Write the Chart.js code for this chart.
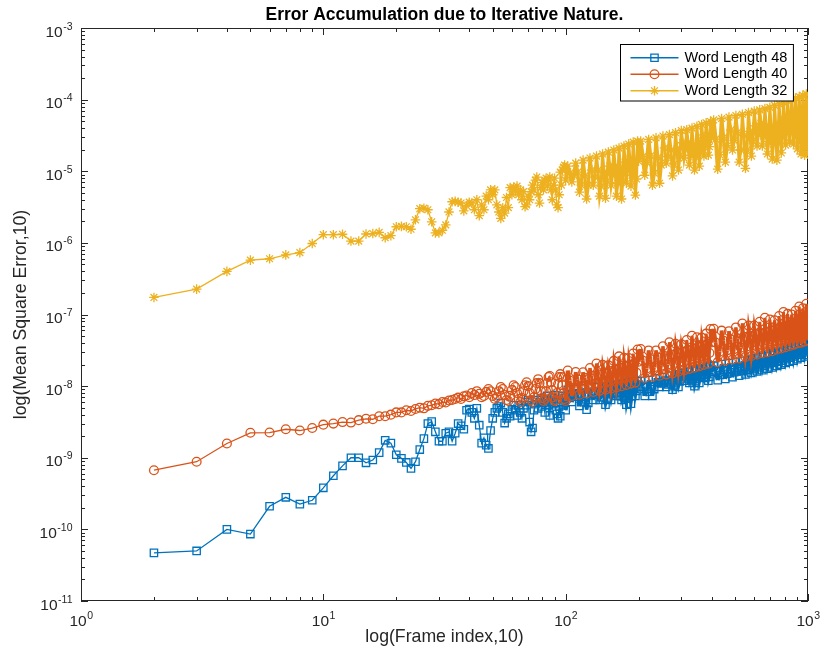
<!DOCTYPE html>
<html>
<head>
<meta charset="utf-8">
<title>Error Accumulation due to Iterative Nature.</title>
<script src="https://cdn.jsdelivr.net/npm/chart.js@4.4.1/dist/chart.umd.min.js"></script>
<style>
  html, body { margin: 0; padding: 0; background: #fff; }
  #wrap { width: 821px; height: 652px; }
</style>
</head>
<body>
<div id="wrap"><canvas id="errChart" width="821" height="652"></canvas></div>
<script>
// frame index shared by the three curves
// (every frame up to 100, then sampled more thinly where the curves become a solid band)
const frameIndex = [
  2, 3, 4, 5, 6, 7, 8, 9, 10, 11,
  12, 13, 14, 15, 16, 17, 18, 19, 20, 21,
  22, 23, 24, 25, 26, 27, 28, 29, 30, 31,
  32, 33, 34, 35, 36, 37, 38, 39, 40,
  41, 42, 43, 44, 45, 46, 47, 48, 49, 50,
  51, 52, 53, 54, 55, 56, 57, 58, 59, 60,
  61, 62, 63, 64, 65, 66, 67, 68, 69, 70,
  71, 72, 73, 74, 75, 76, 77, 78, 79, 80,
  81, 82, 83, 84, 85, 86, 87, 88, 89, 90,
  91, 92, 93, 94, 95, 96, 97, 98, 99, 100,
  102, 104, 106, 108, 110, 112, 114, 116, 118, 120,
  122, 124, 126, 128, 130, 132, 134, 136, 138, 140,
  142, 144, 146, 148, 150, 152, 154, 156, 158, 160,
  162, 164, 166, 168, 170, 172, 174, 176, 178, 180,
  182, 184, 186, 188, 190, 192, 194, 196, 198, 200,
  204, 208, 212, 216, 220, 224, 228, 232, 236, 240,
  244, 248, 252, 256, 260, 264, 268, 272, 276, 280,
  284, 288, 292, 296, 300, 304, 308, 312, 316, 320,
  324, 328, 332, 336, 340, 344, 348, 352, 356, 360,
  364, 368, 372, 376, 380, 384, 388, 392, 396, 400,
  408, 416, 424, 432, 440, 448, 456, 464, 472, 480,
  488, 496, 504, 512, 520, 528, 536, 544, 552, 560,
  568, 576, 584, 592, 600, 608, 616, 624, 632, 640,
  648, 656, 664, 672, 680, 688, 696, 704, 712, 720,
  728, 736, 744, 752, 760, 768, 776, 784, 792, 800,
  808, 816, 824, 832, 840, 848, 856, 864, 872, 880,
  888, 896, 904, 912, 920, 928, 936, 944, 952, 960,
  968, 976, 984, 992, 1000
];

// Word Length 48
const mseWL48 = [
  4.7e-11, 5.0e-11, 1.0e-10, 8.6e-11, 2.1e-10, 2.8e-10, 2.25e-10, 2.55e-10, 3.8e-10, 5.6e-10,
  7.7e-10, 1.0e-9, 1.0e-9, 8.5e-10, 9.3e-10, 1.18e-9, 1.75e-9, 1.6e-9, 1.1e-9, 9.8e-10,
  8.6e-10, 7.1e-10, 8.8e-10, 1.3e-9, 1.85e-9, 3.0e-9, 3.2e-9, 2.3e-9, 1.7e-9, 1.7e-9,
  2.2e-9, 2.3e-9, 1.7e-9, 2.2e-9, 3.0e-9, 2.8e-9, 2.5e-9, 4.6e-9, 4.8e-9,
  4.3e-9, 3.55e-9, 4.9e-9, 2.85e-9, 1.6e-9, 1.9e-9, 1.5e-9, 1.35e-9, 2.4e-9, 3.55e-9,
  4.3e-9, 4.9e-9, 5.2e-9, 5.8e-9, 4.3e-9, 3.05e-9, 3.55e-9, 4.1e-9, 3.8e-9, 4.75e-9,
  5.4e-9, 4.6e-9, 3.9e-9, 5.4e-9, 4.3e-9, 3.55e-9, 4.9e-9, 6.0e-9, 5.4e-9, 6.4e-9,
  3.15e-9, 2.3e-9, 2.6e-9, 4.6e-9, 5.6e-9, 6.4e-9, 4.9e-9, 6.0e-9, 6.8e-9, 5.2e-9,
  5.8e-9, 4.3e-9, 6.4e-9, 7.3e-9, 5.4e-9, 3.9e-9, 6.0e-9, 6.8e-9, 5.6e-9, 7.5e-9,
  4.6e-9, 4.1e-9, 3.55e-9, 5.2e-9, 3.8e-9, 6.0e-9, 7.3e-9, 5.4e-9, 6.8e-9, 4.6e-9,
  8.9e-9, 7.25e-9, 6.0e-9, 7.1e-9, 9.1e-9, 7.6e-9, 5.3e-9, 5.95e-9, 9.3e-9, 7.1e-9,
  4.7e-9, 5.85e-9, 9.55e-9, 7.85e-9, 6.4e-9, 7.6e-9, 9.75e-9, 8.5e-9, 6.4e-9, 7.0e-9,
  9.9e-9, 7.9e-9, 5.5e-9, 6.6e-9, 1.01e-8, 8.3e-9, 6.4e-9, 7.75e-9, 1.04e-8, 9.1e-9,
  7.3e-9, 8.2e-9, 1.07e-8, 8.9e-9, 6.4e-9, 7.2e-9, 1.1e-8, 8.45e-9, 5.5e-9, 6.7e-9,
  1.12e-8, 8.45e-9, 5.7e-9, 7.3e-9, 1.14e-8, 9.35e-9, 7.3e-9, 8.6e-9, 1.17e-8, 9.75e-9,
  1.19e-8, 9.9e-9, 7.3e-9, 8.35e-9, 1.22e-8, 9.9e-9, 7.3e-9, 9.1e-9, 1.28e-8, 1.13e-8,
  9.75e-9, 1.09e-8, 1.34e-8, 1.2e-8, 9.75e-9, 1.06e-8, 1.4e-8, 1.17e-8, 8.9e-9, 1.02e-8,
  1.46e-8, 1.21e-8, 9.75e-9, 1.16e-8, 1.52e-8, 1.37e-8, 1.19e-8, 1.28e-8, 1.58e-8, 1.4e-8,
  1.11e-8, 1.21e-8, 1.64e-8, 1.36e-8, 1.0e-8, 1.17e-8, 1.71e-8, 1.41e-8, 1.11e-8, 1.34e-8,
  1.77e-8, 1.59e-8, 1.3e-8, 1.45e-8, 1.85e-8, 1.58e-8, 1.19e-8, 1.34e-8, 1.92e-8, 1.58e-8,
  1.93e-8, 1.61e-8, 1.21e-8, 1.43e-8, 2.03e-8, 1.68e-8, 1.26e-8, 1.49e-8, 2.1e-8, 1.75e-8,
  1.33e-8, 1.56e-8, 2.18e-8, 1.82e-8, 1.4e-8, 1.63e-8, 2.25e-8, 1.91e-8, 1.46e-8, 1.7e-8,
  2.32e-8, 1.99e-8, 1.53e-8, 1.77e-8, 2.45e-8, 2.06e-8, 1.6e-8, 1.84e-8, 2.55e-8, 2.17e-8,
  1.67e-8, 1.93e-8, 2.62e-8, 2.23e-8, 1.75e-8, 2.02e-8, 2.74e-8, 2.31e-8, 1.82e-8, 2.1e-8,
  2.86e-8, 2.45e-8, 1.91e-8, 2.2e-8, 2.96e-8, 2.55e-8, 2.0e-8, 2.27e-8, 3.1e-8, 2.65e-8,
  2.1e-8, 2.38e-8, 3.2e-8, 2.75e-8, 2.2e-8, 2.5e-8, 3.35e-8, 2.88e-8, 2.26e-8, 2.6e-8,
  3.47e-8, 3.0e-8, 2.38e-8, 2.72e-8, 3.6e-8, 3.13e-8, 2.5e-8, 2.85e-8, 3.77e-8, 3.27e-8,
  2.6e-8, 2.97e-8, 3.9e-8, 3.38e-8, 2.72e-8
];

// Word Length 40
const mseWL40 = [
  6.7e-10, 8.8e-10, 1.58e-9, 2.23e-9, 2.25e-9, 2.5e-9, 2.4e-9, 2.6e-9, 2.9e-9, 3.0e-9,
  3.15e-9, 3.1e-9, 3.35e-9, 3.5e-9, 3.45e-9, 3.8e-9, 3.8e-9, 4.0e-9, 4.3e-9, 4.3e-9,
  4.6e-9, 4.5e-9, 4.8e-9, 5.0e-9, 4.9e-9, 5.3e-9, 5.4e-9, 5.7e-9, 5.6e-9, 6.0e-9,
  5.9e-9, 6.3e-9, 6.4e-9, 6.6e-9, 6.9e-9, 6.6e-9, 7.2e-9, 7.4e-9, 7.0e-9,
  8.0e-9, 7.5e-9, 8.5e-9, 7.8e-9, 7.0e-9, 7.3e-9, 8.3e-9, 9.1e-9, 8.5e-9, 7.3e-9,
  6.6e-9, 7.0e-9, 8.5e-9, 9.7e-9, 9.1e-9, 7.5e-9, 6.4e-9, 6.2e-9, 7.3e-9, 8.8e-9,
  1.03e-8, 9.7e-9, 8.0e-9, 6.6e-9, 6.0e-9, 6.8e-9, 8.5e-9, 1.03e-8, 1.13e-8, 1.0e-8,
  8.0e-9, 6.4e-9, 6.0e-9, 7.0e-9, 9.1e-9, 1.1e-8, 1.25e-8, 1.1e-8, 8.5e-9, 6.8e-9,
  6.2e-9, 6.6e-9, 8.5e-9, 1.1e-8, 1.34e-8, 1.38e-8, 1.13e-8, 8.8e-9, 7.0e-9, 6.2e-9,
  6.4e-9, 8.0e-9, 1.07e-8, 1.34e-8, 1.47e-8, 1.34e-8, 1.03e-8, 8.0e-9, 6.6e-9, 6.2e-9,
  1.65e-8, 1.2e-8, 7.3e-9, 9.4e-9, 1.57e-8, 1.25e-8, 7.6e-9, 1.0e-8, 1.56e-8, 1.31e-8,
  7.9e-9, 1.04e-8, 1.79e-8, 1.39e-8, 8.3e-9, 1.08e-8, 2.07e-8, 1.46e-8, 8.6e-9, 1.13e-8,
  1.98e-8, 1.54e-8, 8.9e-9, 1.18e-8, 1.96e-8, 1.63e-8, 9.2e-9, 1.23e-8, 2.25e-8, 1.71e-8,
  9.6e-9, 1.3e-8, 2.6e-8, 1.8e-8, 1.0e-8, 1.35e-8, 2.48e-8, 1.89e-8, 1.04e-8, 1.41e-8,
  2.47e-8, 1.98e-8, 1.09e-8, 1.48e-8, 2.85e-8, 2.08e-8, 1.12e-8, 1.54e-8, 3.25e-8, 2.19e-8,
  3.3e-8, 2.28e-8, 1.3e-8, 1.76e-8, 3.15e-8, 2.38e-8, 1.35e-8, 1.84e-8, 3.15e-8, 2.53e-8,
  1.4e-8, 1.92e-8, 3.6e-8, 2.64e-8, 1.46e-8, 2.01e-8, 4.1e-8, 2.77e-8, 1.51e-8, 2.11e-8,
  3.9e-8, 2.91e-8, 1.59e-8, 2.2e-8, 3.85e-8, 3.03e-8, 1.66e-8, 2.32e-8, 4.4e-8, 3.2e-8,
  1.74e-8, 2.41e-8, 5.05e-8, 3.38e-8, 1.81e-8, 2.53e-8, 4.8e-8, 3.52e-8, 1.89e-8, 2.63e-8,
  4.75e-8, 3.7e-8, 1.99e-8, 2.75e-8, 5.4e-8, 3.87e-8, 2.05e-8, 2.9e-8, 6.25e-8, 4.07e-8,
  6.3e-8, 4.07e-8, 2.16e-8, 3.03e-8, 5.95e-8, 4.29e-8, 2.29e-8, 3.16e-8, 5.85e-8, 4.47e-8,
  2.35e-8, 3.29e-8, 6.6e-8, 4.64e-8, 2.44e-8, 3.44e-8, 7.5e-8, 4.87e-8, 2.55e-8, 3.57e-8,
  7.0e-8, 5.1e-8, 2.63e-8, 3.74e-8, 7.0e-8, 5.32e-8, 2.76e-8, 3.85e-8, 7.9e-8, 5.5e-8,
  2.88e-8, 4.01e-8, 9.0e-8, 5.72e-8, 2.98e-8, 4.2e-8, 8.5e-8, 6.0e-8, 3.08e-8, 4.34e-8,
  8.3e-8, 6.21e-8, 3.25e-8, 4.56e-8, 9.5e-8, 6.54e-8, 3.35e-8, 4.76e-8, 1.08e-7, 6.87e-8,
  3.49e-8, 5.0e-8, 1.02e-7, 7.14e-8, 3.64e-8, 5.19e-8, 1.0e-7, 7.52e-8, 3.8e-8, 5.42e-8,
  1.13e-7, 7.79e-8, 3.95e-8, 5.62e-8, 1.29e-7, 8.07e-8, 4.05e-8, 5.85e-8, 1.22e-7, 8.45e-8,
  4.19e-8, 6.08e-8, 1.41e-7, 8.83e-8, 4.38e-8
];

// Word Length 32
const mseWL32 = [
  1.73e-7, 2.26e-7, 4.0e-7, 5.75e-7, 6.0e-7, 6.8e-7, 7.3e-7, 9.8e-7, 1.3e-6, 1.3e-6,
  1.32e-6, 1.06e-6, 1.06e-6, 1.33e-6, 1.35e-6, 1.4e-6, 1.18e-6, 1.26e-6, 1.68e-6, 1.7e-6,
  1.68e-6, 1.55e-6, 2.1e-6, 3.0e-6, 3.05e-6, 2.9e-6, 1.97e-6, 1.38e-6, 1.38e-6, 1.5e-6,
  1.78e-6, 2.7e-6, 3.75e-6, 3.8e-6, 3.7e-6, 3.6e-6, 2.8e-6, 3.3e-6, 3.7e-6,
  3.6e-6, 2.9e-6, 4.0e-6, 2.4e-6, 3.4e-6, 2.9e-6, 4.5e-6, 4.0e-6, 5.5e-6, 4.7e-6,
  5.5e-6, 3.4e-6, 2.7e-6, 2.2e-6, 3.1e-6, 2.6e-6, 4.3e-6, 3.1e-6, 5.9e-6, 4.7e-6,
  6.0e-6, 5.2e-6, 6.2e-6, 4.7e-6, 5.5e-6, 4.0e-6, 5.2e-6, 3.2e-6, 3.4e-6, 4.5e-6,
  4.0e-6, 5.2e-6, 6.4e-6, 5.5e-6, 7.5e-6, 8.3e-6, 4.7e-6, 3.6e-6, 5.9e-6, 7.0e-6,
  5.5e-6, 7.5e-6, 8.0e-6, 6.2e-6, 7.5e-6, 8.3e-6, 5.5e-6, 4.0e-6, 6.4e-6, 8.0e-6,
  5.5e-6, 3.4e-6, 3.1e-6, 4.7e-6, 9.7e-6, 6.4e-6, 1.04e-5, 1.14e-5, 1.22e-5, 7.5e-6,
  1.18e-5, 9.4e-6, 7.1e-6, 8.8e-6, 1.3e-5, 9.7e-6, 5.1e-6, 6.4e-6, 1.43e-5, 8.6e-6,
  4.1e-6, 6.4e-6, 1.53e-5, 1.04e-5, 6.4e-6, 8.3e-6, 1.63e-5, 1.04e-5, 4.5e-6, 6.2e-6,
  1.74e-5, 9.7e-6, 4.2e-6, 7.3e-6, 1.85e-5, 1.18e-5, 6.4e-6, 8.8e-6, 1.98e-5, 1.18e-5,
  4.5e-6, 6.8e-6, 2.1e-5, 1.1e-5, 4.1e-6, 7.3e-6, 2.25e-5, 1.34e-5, 6.8e-6, 1.07e-5,
  2.4e-5, 1.48e-5, 6.2e-6, 8.8e-6, 2.55e-5, 1.34e-5, 4.65e-6, 7.8e-6, 2.63e-5, 1.38e-5,
  2.63e-5, 1.6e-5, 8.8e-6, 1.33e-5, 2.78e-5, 1.64e-5, 6.4e-6, 9.4e-6, 2.92e-5, 1.55e-5,
  6.8e-6, 1.22e-5, 3.1e-5, 2.12e-5, 1.3e-5, 1.6e-5, 3.25e-5, 1.98e-5, 8.6e-6, 1.26e-5,
  3.45e-5, 2.05e-5, 1.04e-5, 1.65e-5, 3.7e-5, 2.5e-5, 1.53e-5, 2.0e-5, 3.8e-5, 2.52e-5,
  1.22e-5, 1.67e-5, 4.0e-5, 2.36e-5, 1.04e-5, 1.58e-5, 4.25e-5, 2.46e-5, 1.18e-5, 1.87e-5,
  4.5e-5, 2.92e-5, 1.63e-5, 2.3e-5, 4.75e-5, 3.15e-5, 1.68e-5, 2.2e-5, 4.95e-5, 2.9e-5,
  5.2e-5, 2.8e-5, 1.07e-5, 1.7e-5, 5.45e-5, 2.95e-5, 1.34e-5, 2.27e-5, 5.7e-5, 3.75e-5,
  1.98e-5, 2.7e-5, 6.0e-5, 3.5e-5, 1.34e-5, 1.98e-5, 6.25e-5, 3.15e-5, 1.1e-5, 1.98e-5,
  6.6e-5, 3.6e-5, 1.63e-5, 2.7e-5, 6.9e-5, 4.3e-5, 2.25e-5, 3.25e-5, 7.2e-5, 4.65e-5,
  2.25e-5, 3.1e-5, 7.5e-5, 4.35e-5, 1.74e-5, 2.6e-5, 7.8e-5, 4.15e-5, 1.48e-5, 2.4e-5,
  8.3e-5, 4.15e-5, 1.43e-5, 2.5e-5, 8.7e-5, 4.55e-5, 1.8e-5, 3.05e-5, 9.1e-5, 5.2e-5,
  2.32e-5, 3.65e-5, 9.6e-5, 5.65e-5, 2.55e-5, 3.85e-5, 1.0e-4, 5.8e-5, 2.4e-5, 3.65e-5,
  1.05e-4, 5.55e-5, 2.05e-5, 3.2e-5, 1.1e-4, 5.35e-5, 1.74e-5, 2.95e-5, 1.15e-4, 5.35e-5,
  1.68e-5, 3.0e-5, 1.2e-4, 5.5e-5, 1.74e-5
];

const seriesNames = ['Word Length 48', 'Word Length 40', 'Word Length 32'];
const seriesColors = ['#0072BD', '#D95319', '#EDB120'];
const seriesMarkers = ['rect', 'circle', 'star'];

// decade tick labels (exponents of 10)
const xTickExp = [0, 1, 2, 3];
const yTickExp = [-11, -10, -9, -8, -7, -6, -5, -4, -3];

const chartTitle = 'Error Accumulation due to Iterative Nature.';
const xTitle = 'log(Frame index,10)';
const yTitle = 'log(Mean Square Error,10)';

const FONT = '"Liberation Sans", Arial, Helvetica, sans-serif';
const AXIS_COLOR = '#262626';
const markerRadius = { rect: 5.2, circle: 4.4, star: 4.8 };

function toPoints(ys) {
  return frameIndex.map((f, i) => ({ x: f, y: ys[i] }));
}

// in the sampled part each plotted segment stands in for several real frames,
// so it is stroked heavier to give the same solid band as the original
function segmentWidth(ctx) {
  if (frameIndex[ctx.p0DataIndex] < 100) return 1.3;
  const dx = Math.abs(ctx.p1.x - ctx.p0.x);
  return Math.min(4.0, Math.max(3.0, dx * 1.9));
}

// "10" with a raised exponent, like MATLAB tick labels
function drawPow10(ctx, exp, x, y, align) {
  const base = '10';
  const sup = String(exp);
  ctx.font = '15.5px ' + FONT;
  const bw = ctx.measureText(base).width;
  ctx.font = '10.5px ' + FONT;
  const sw = ctx.measureText(sup).width;
  const left = align === 'right' ? x - bw - sw : x - (bw + sw) / 2;
  ctx.textAlign = 'left';
  ctx.textBaseline = 'alphabetic';
  ctx.font = '15.5px ' + FONT;
  ctx.fillText(base, left, y);
  ctx.font = '10.5px ' + FONT;
  ctx.fillText(sup, left + bw + 0.5, y - 7);
}

// minor + major tick values for a log axis
function logTicks(e0, e1) {
  const out = [];
  for (let e = e0; e <= e1; e++) {
    for (let m = 1; m <= 9; m++) {
      if (e === e1 && m > 1) break;
      out.push({ v: Number((m * Math.pow(10, e)).toPrecision(3)), major: m === 1 });
    }
  }
  return out;
}

const matlabAxes = {
  id: 'matlabAxes',
  beforeDatasetsDraw(chart) {
    const { ctx, chartArea: a, scales } = chart;
    ctx.save();
    ctx.strokeStyle = AXIS_COLOR;
    ctx.lineWidth = 1;
    ctx.strokeRect(a.left + 0.5, a.top + 0.5, a.right - a.left - 1, a.bottom - a.top - 1);
    ctx.beginPath();
    logTicks(xTickExp[0], xTickExp[xTickExp.length - 1]).forEach(t => {
      const px = Math.round(scales.x.getPixelForValue(t.v)) + 0.5;
      const len = t.major ? 7 : 4;
      ctx.moveTo(px, a.bottom); ctx.lineTo(px, a.bottom - len);
      ctx.moveTo(px, a.top); ctx.lineTo(px, a.top + len);
    });
    logTicks(yTickExp[0], yTickExp[yTickExp.length - 1]).forEach(t => {
      const py = Math.round(scales.y.getPixelForValue(t.v)) + 0.5;
      const len = t.major ? 7 : 4;
      ctx.moveTo(a.left, py); ctx.lineTo(a.left + len, py);
      ctx.moveTo(a.right, py); ctx.lineTo(a.right - len, py);
    });
    ctx.stroke();
    ctx.restore();
  },
  afterDraw(chart) {
    const { ctx, chartArea: a, scales } = chart;
    ctx.save();
    ctx.fillStyle = AXIS_COLOR;
    xTickExp.forEach(e => drawPow10(ctx, e, scales.x.getPixelForValue(Math.pow(10, e)), a.bottom + 25, 'center'));
    yTickExp.forEach(e => drawPow10(ctx, e, a.left - 9, scales.y.getPixelForValue(Math.pow(10, e)) + 8.5, 'right'));

    // axis titles
    const cx = (a.left + a.right) / 2;
    const cy = (a.top + a.bottom) / 2;
    ctx.font = '17.7px ' + FONT;
    ctx.textAlign = 'center';
    ctx.textBaseline = 'middle';
    ctx.fillText(xTitle, cx, a.bottom + 36);
    ctx.save();
    ctx.translate(21, cy);
    ctx.rotate(-Math.PI / 2);
    ctx.fillText(yTitle, 0, 0);
    ctx.restore();

    // title
    ctx.fillStyle = '#000';
    ctx.font = 'bold 17.5px ' + FONT;
    ctx.fillText(chartTitle, cx, 15);

    // legend box, top right inside the axes
    ctx.font = '14.5px ' + FONT;
    const textW = Math.max(...seriesNames.map(n => ctx.measureText(n).width));
    const rowH = 16.5;
    const boxW = 64 + textW + 6;
    const boxH = rowH * seriesNames.length + 7;
    const bx = Math.round(a.right - 15 - boxW) + 0.5;
    const by = Math.round(a.top + 16) + 0.5;
    ctx.fillStyle = '#fff';
    ctx.fillRect(bx, by, boxW, boxH);
    ctx.strokeStyle = '#000';
    ctx.lineWidth = 1;
    ctx.strokeRect(bx, by, boxW, boxH);
    seriesNames.forEach((name, i) => {
      const ry = by + 4 + rowH * (i + 0.5) + 1;
      ctx.strokeStyle = seriesColors[i];
      ctx.lineWidth = 1.3;
      ctx.beginPath();
      ctx.moveTo(bx + 10, ry); ctx.lineTo(bx + 58, ry);
      ctx.stroke();
      ctx.fillStyle = 'rgba(0,0,0,0)';
      Chart.helpers.drawPoint(ctx, {
        pointStyle: seriesMarkers[i], rotation: 0,
        radius: markerRadius[seriesMarkers[i]], borderWidth: 1.3
      }, bx + 34, ry);
      ctx.fillStyle = '#000';
      ctx.textAlign = 'left';
      ctx.textBaseline = 'middle';
      ctx.fillText(name, bx + 64, ry);
    });
    ctx.restore();
  }
};

const datasets = [mseWL48, mseWL40, mseWL32].map((ys, i) => ({
  label: seriesNames[i],
  data: toPoints(ys),
  borderColor: seriesColors[i],
  borderWidth: 1.3,
  segment: { borderWidth: segmentWidth },
  pointStyle: seriesMarkers[i],
  pointRadius: markerRadius[seriesMarkers[i]],
  pointBorderColor: seriesColors[i],
  pointBackgroundColor: 'rgba(0,0,0,0)',
  pointBorderWidth: 1.3,
  tension: 0,
  fill: false,
  order: 3 - i   // later series painted on top, as in MATLAB
}));

new Chart(document.getElementById('errChart'), {
  type: 'line',
  data: { datasets: datasets },
  options: {
    responsive: false,
    animation: false,
    events: [],
    layout: { padding: { left: 81, right: 13, top: 28, bottom: 51 } },
    plugins: {
      legend: { display: false },
      title: { display: false },
      tooltip: { enabled: false }
    },
    scales: {
      x: { type: 'logarithmic', min: 1, max: 1000, display: false },
      y: { type: 'logarithmic', min: 1e-11, max: 1e-3, display: false }
    }
  },
  plugins: [matlabAxes]
});
</script>
</body>
</html>
